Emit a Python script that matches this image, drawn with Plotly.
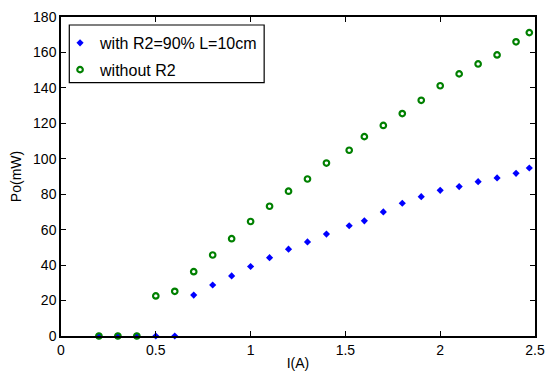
import plotly.graph_objects as go

# Data
x_with = [0.2, 0.3, 0.4, 0.5, 0.6, 0.7, 0.8, 0.9, 1.0, 1.1, 1.2, 1.3, 1.4, 1.52, 1.6, 1.7, 1.8, 1.9, 2.0, 2.1, 2.2, 2.3, 2.4, 2.47]
y_with = [0, 0, 0, 0, 0, 23.1, 28.8, 33.9, 39.2, 44.2, 49.0, 53.1, 57.5, 62.2, 65.0, 70.0, 74.9, 78.6, 82.2, 84.3, 87.1, 89.2, 91.8, 94.8]

x_without = [0.2, 0.3, 0.4, 0.5, 0.6, 0.7, 0.8, 0.9, 1.0, 1.1, 1.2, 1.3, 1.4, 1.52, 1.6, 1.7, 1.8, 1.9, 2.0, 2.1, 2.2, 2.3, 2.4, 2.47]
y_without = [0, 0, 0, 22.6, 25.2, 36.3, 45.7, 54.9, 64.6, 73.2, 81.7, 88.6, 97.6, 104.8, 112.5, 118.8, 125.5, 133.0, 141.2, 147.9, 153.5, 158.6, 166.0, 171.2]

x_ticks = [0, 0.5, 1, 1.5, 2, 2.5]
x_ticklabels = ["0", "0.5", "1", "1.5", "2", "2.5"]
y_ticks = [0, 20, 40, 60, 80, 100, 120, 140, 160, 180]

FONT = "Liberation Sans, Arial, sans-serif"

fig = go.Figure()
fig.add_trace(go.Scatter(
    x=x_with, y=y_with, mode="markers", name="with R2=90% L=10cm",
    legendgroup="a", cliponaxis=False,
    marker=dict(symbol="diamond", size=5.5, color="#0000ff", line=dict(width=0)),
))
fig.add_trace(go.Scatter(
    x=x_without, y=y_without, mode="markers", name="without R2",
    legendgroup="b", cliponaxis=False,
    marker=dict(symbol="circle-open", size=5.5, color="#008000", line=dict(width=2.2, color="#008000")),
))

axis_common = dict(
    showgrid=False, zeroline=False, showline=True, linecolor="black", linewidth=1.5,
    mirror="ticks", ticks="inside", ticklen=5, tickcolor="black", tickwidth=1,
    automargin=False,
    tickfont=dict(family=FONT, size=14, color="black"),
)

# legend frame (paper coords relative to plot area)
fig.add_shape(type="rect", xref="paper", yref="paper",
              x0=0.0175, x1=0.4286, y0=0.794, y1=0.975,
              line=dict(color="black", width=1.2), fillcolor="rgba(0,0,0,0)", layer="above")

fig.update_layout(
    width=548, height=372,
    margin=dict(l=61, r=13, t=17, b=36),
    paper_bgcolor="white", plot_bgcolor="white",
    font=dict(family=FONT, size=14, color="black"),
    showlegend=True,
    legend=dict(
        x=-0.002, y=0.972, xanchor="left", yanchor="top",
        borderwidth=0, bgcolor="rgba(0,0,0,0)",
        font=dict(family=FONT, size=16), itemwidth=30,
        traceorder="grouped", tracegroupgap=3,
    ),
    xaxis=dict(range=[0, 2.5], tickvals=x_ticks, ticktext=x_ticklabels,
               title=dict(text="I(A)", standoff=2, font=dict(size=14)), **axis_common),
    yaxis=dict(range=[0, 180], tickvals=y_ticks,
               title=dict(text="Po(mW)", standoff=8, font=dict(size=14)), **axis_common),
)

fig.write_html("out.html")
